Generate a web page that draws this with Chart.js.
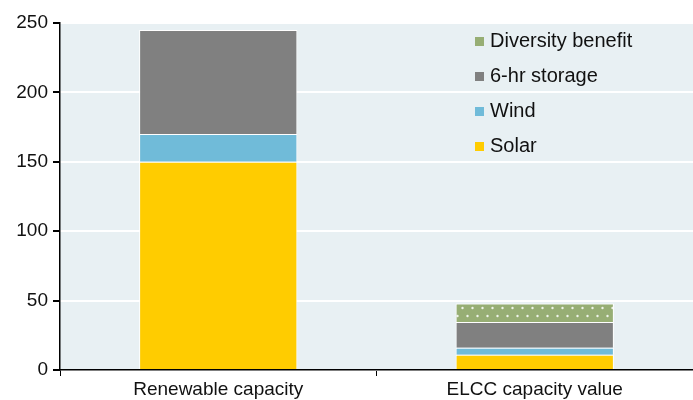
<!DOCTYPE html>
<html>
<head>
  <title>Renewable capacity vs ELCC capacity value</title>
  <script src="https://cdn.jsdelivr.net/npm/chart.js"></script>
  <style>
    body { margin: 0; background: #fff; }
  </style>
</head>
<body>
  <div style="width:693px;height:400px">
    <canvas id="elccChart" width="693" height="400"></canvas>
  </div>

  <script>
    // Data (GW)
    const categories = ['Renewable capacity', 'ELCC capacity value'];
    const solar = [150, 11];
    const wind = [20, 5];
    const storage = [75, 18.5];
    const diversity = [0, 13.5];
    const yTicks = [0, 50, 100, 150, 200, 250];

    // dotted green fill for the diversity benefit
    function dotPattern() {
      const c = document.createElement('canvas');
      c.width = 10; c.height = 16;
      const g = c.getContext('2d');
      g.fillStyle = '#97ae74';
      g.fillRect(0, 0, 10, 16);
      g.fillStyle = 'rgba(255,255,255,0.85)';
      [[2.5, 4], [7.5, 12]].forEach(p => {
        g.beginPath();
        g.arc(p[0], p[1], 1.2, 0, Math.PI * 2);
        g.fill();
      });
      return g.createPattern(c, 'repeat');
    }

    const plotBg = {
      id: 'plotBg',
      beforeDraw(chart) {
        const a = chart.chartArea, ctx = chart.ctx;
        ctx.save();
        ctx.fillStyle = '#e8f0f3';
        ctx.fillRect(a.left, a.top, a.right - a.left, a.bottom - a.top);
        ctx.restore();
      }
    };

    // legend drawn inside the plot, top to bottom in reverse dataset order
    const innerLegend = {
      id: 'innerLegend',
      afterDraw(chart) {
        const ctx = chart.ctx;
        const sets = chart.data.datasets.slice().reverse();
        ctx.save();
        ctx.font = '20px "Liberation Sans", Arial, sans-serif';
        ctx.textBaseline = 'middle';
        sets.forEach((ds, i) => {
          const y = 41 + i * 35;
          ctx.fillStyle = ds.legendColor;
          ctx.fillRect(475, y - 4, 9, 9);
          ctx.fillStyle = '#111';
          ctx.fillText(ds.label, 490, y);
        });
        ctx.restore();
      }
    };

    const border = { borderColor: '#ffffff', borderWidth: 1 };

    new Chart(document.getElementById('elccChart'), {
      type: 'bar',
      data: {
        labels: categories,
        datasets: [
          { label: 'Solar', data: solar, backgroundColor: '#ffcc00', legendColor: '#ffcc00', ...border },
          { label: 'Wind', data: wind, backgroundColor: '#70bbd9', legendColor: '#70bbd9', ...border },
          { label: '6-hr storage', data: storage, backgroundColor: '#808080', legendColor: '#808080', ...border },
          { label: 'Diversity benefit', data: diversity, backgroundColor: dotPattern(), legendColor: '#97ae74', ...border }
        ]
      },
      options: {
        responsive: false,
        animation: false,
        layout: { padding: { top: 23, right: 0, bottom: 0, left: 0 } },
        categoryPercentage: 1,
        barPercentage: 0.5,
        plugins: {
          legend: { display: false },
          tooltip: { enabled: false }
        },
        scales: {
          x: {
            stacked: true,
            afterFit: s => { s.height = 30; },
            border: { color: '#000', width: 1.5 },
            grid: { drawOnChartArea: false, color: '#000', tickLength: 6 },
            ticks: {
              color: '#111',
              padding: 2,
              font: { family: '"Liberation Sans", Arial, sans-serif', size: 19 }
            }
          },
          y: {
            stacked: true,
            min: 0,
            max: 250,
            afterFit: s => { s.width = 60; },
            afterBuildTicks: s => { s.ticks = yTicks.map(v => ({ value: v })); },
            border: { color: '#000', width: 1.5 },
            grid: { color: '#ffffff', lineWidth: 2, tickColor: '#000', tickLength: 7 },
            ticks: {
              color: '#111',
              padding: 5,
              font: { family: '"Liberation Sans", Arial, sans-serif', size: 19 }
            }
          }
        }
      },
      plugins: [plotBg, innerLegend]
    });
  </script>
</body>
</html>
